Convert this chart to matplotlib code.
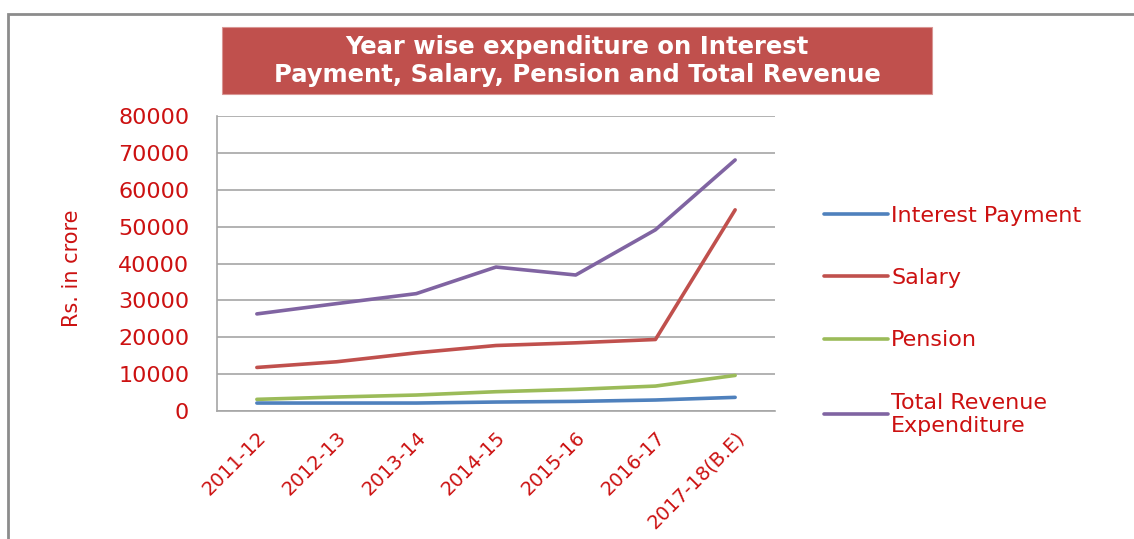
import matplotlib
matplotlib.use("Agg")
import matplotlib.pyplot as plt
from matplotlib.patches import Rectangle
from matplotlib.transforms import ScaledTranslation

years = ["2011-12", "2012-13", "2013-14", "2014-15", "2015-16", "2016-17", "2017-18(B.E)"]
interest_payment = [2160, 2160, 2160, 2430, 2610, 2980, 3700]
salary = [11810, 13350, 15780, 17760, 18490, 19390, 54550]
pension = [3160, 3790, 4330, 5230, 5860, 6760, 9650]
total_revenue = [26330, 29120, 31830, 39040, 36880, 49140, 68080]

series_labels = ["Interest Payment", "Salary", "Pension", "Total Revenue\nExpenditure"]
series_colors = ["#4F81BD", "#C0504D", "#9BBB59", "#8064A2"]
yticks = [0, 10000, 20000, 30000, 40000, 50000, 60000, 70000, 80000]

TXT = "#CC1111"

W, H = 1134, 539
fig = plt.figure(figsize=(W / 100, H / 100), dpi=100)
fig.patch.set_facecolor("white")

# outer frame
fig.patches.append(Rectangle((8 / W, -0.2), 1.2, 1.2 - 14 / H, transform=fig.transFigure,
                             fill=False, edgecolor="#8C8C8C", linewidth=2, zorder=0))

ax = fig.add_axes([217 / W, (H - 411) / H, (775 - 217) / W, (411 - 116) / H])
x = list(range(len(years)))
for vals, lab, col in zip([interest_payment, salary, pension, total_revenue], series_labels, series_colors):
    ax.plot(x, vals, color=col, linewidth=2.6, label=lab, solid_capstyle="round", zorder=3)

ax.set_xlim(-0.5, len(years) - 0.5)
ax.set_ylim(0, 80000)
ax.set_yticks(yticks)
ax.set_yticklabels([str(v) for v in yticks], color=TXT, fontsize=16)
ax.set_xticks(x)
ax.set_xticklabels(years, rotation=45, ha="right", rotation_mode="anchor", color=TXT, fontsize=14)
shift = ScaledTranslation(-11 / 100, 0, fig.dpi_scale_trans)
for lbl in ax.get_xticklabels():
    lbl.set_transform(lbl.get_transform() + shift)
ax.tick_params(axis="both", length=0)
ax.tick_params(axis="y", pad=20)
ax.tick_params(axis="x", pad=12)
ax.grid(axis="y", color="#A6A6A6", linewidth=1.2)
ax.set_axisbelow(True)
for s in ["top", "right"]:
    ax.spines[s].set_visible(False)
for s in ["left", "bottom"]:
    ax.spines[s].set_color("#A6A6A6")
    ax.spines[s].set_linewidth(1.2)

fig.text(72 / W, 1 - 268 / H, "Rs. in crore", rotation=90, ha="center", va="center",
         color=TXT, fontsize=15, family=["Liberation Sans Narrow", "DejaVu Sans"])

leg = ax.legend(loc="upper left", bbox_to_anchor=(824 / W, 1 - 206 / H), bbox_transform=fig.transFigure,
                frameon=False, fontsize=16, handlelength=2.9, handletextpad=0.12,
                labelspacing=1.9, borderaxespad=0, borderpad=0)
for t in leg.get_texts():
    t.set_color(TXT)
for l in leg.get_lines():
    l.set_linewidth(2.6)

# title box
fig.patches.append(Rectangle((222 / W, 1 - 94 / H), (932 - 222) / W, (94 - 27) / H,
                             transform=fig.transFigure, facecolor="#C0504D", edgecolor="#D99694",
                             linewidth=0.8, zorder=1))
fig.text(577 / W, 1 - 61 / H, "Year wise expenditure on Interest\nPayment, Salary, Pension and Total Revenue",
         ha="center", va="center", color="white", fontsize=17.5, fontweight="bold",
         linespacing=1.2, zorder=2)

fig.savefig("out.png", dpi=100)
